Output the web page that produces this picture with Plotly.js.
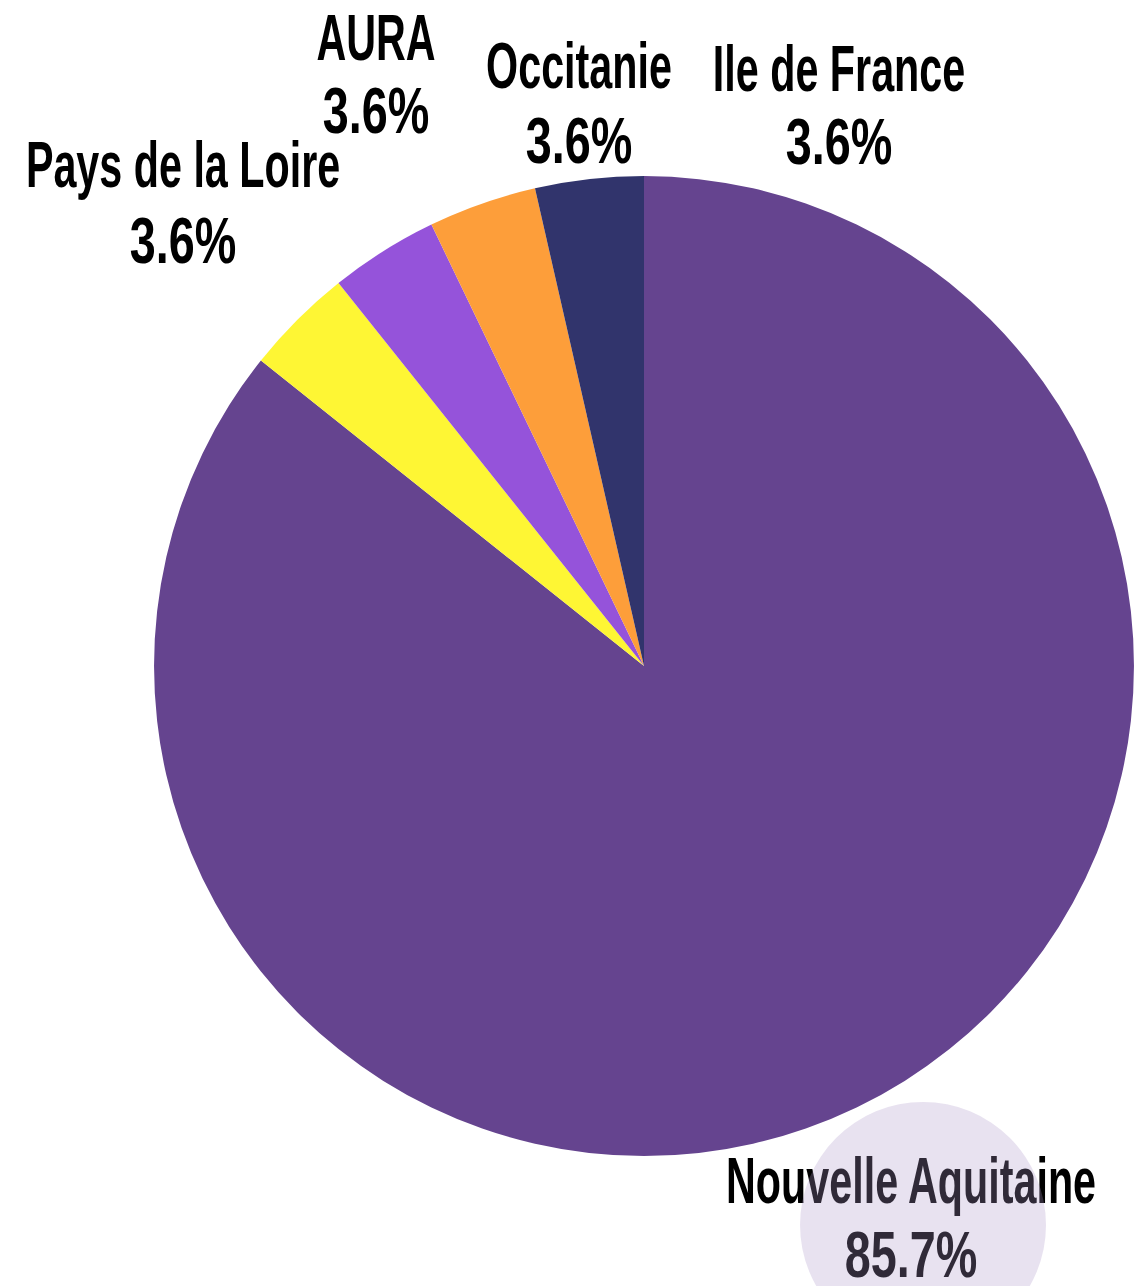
<!DOCTYPE html>
<html>
<head>
<meta charset="utf-8">
<script src="https://cdn.plot.ly/plotly-3.0.1.min.js"></script>
<style>
html,body{margin:0;padding:0;background:#fff;}
#chart{width:1134px;height:1286px;}
#chart .scatterlayer > g.trace .textpoint text{transform-box:fill-box;transform-origin:center;transform:scaleX(0.645);}
#chart .scatterlayer > g.trace:nth-child(2) .textpoint text{transform:scaleX(0.73);}
</style>
</head>
<body>
<div id="chart"></div>
<script>
// Data (clockwise from 12 o'clock)
const regions = ["Nouvelle Aquitaine", "Pays de la Loire", "AURA", "Occitanie", "Ile de France"];
const counts = [24, 1, 1, 1, 1];

// Styling / label placement (fractions of the whole figure)
const sliceColors = ["#65448f", "#fef634", "#9553da", "#fd9e3a", "#31346c"];
const labelX = [0.8034, 0.1614, 0.3316, 0.5106, 0.7399];
const nameY = [0.0771, 0.8667, 0.9659, 0.9437, 0.9418];
const pctY = [0.0191, 0.8076, 0.9091, 0.8854, 0.8846];

const total = counts.reduce((a, b) => a + b, 0);
const pctText = counts.map(c => (c / total * 100).toFixed(1) + "%");

const pie = {
  type: "pie",
  labels: regions,
  values: counts,
  sort: false,
  direction: "clockwise",
  rotation: 0,
  domain: {x: [0.1358, 1], y: [0.1011, 0.8631]},
  marker: {colors: sliceColors, line: {width: 0}},
  textinfo: "none",
  hoverinfo: "label+percent",
  showlegend: false
};

const labelFont = {family: "Liberation Sans, Arial, sans-serif", size: 64, weight: "bold", color: "#000"};

const names = {
  type: "scatter", mode: "text",
  x: labelX, y: nameY, text: regions,
  textposition: "middle center", textfont: labelFont,
  cliponaxis: false, hoverinfo: "skip", showlegend: false
};

const percents = {
  type: "scatter", mode: "text",
  x: labelX, y: pctY, text: pctText,
  textposition: "middle center", textfont: labelFont,
  cliponaxis: false, hoverinfo: "skip", showlegend: false
};

const hiddenAxis = {range: [0, 1], visible: false, showgrid: false, zeroline: false, fixedrange: true};

const layout = {
  width: 1134,
  height: 1286,
  margin: {l: 0, r: 0, t: 0, b: 0},
  paper_bgcolor: "#fff",
  plot_bgcolor: "rgba(0,0,0,0)",
  showlegend: false,
  xaxis: hiddenAxis,
  yaxis: hiddenAxis,
  shapes: [{
    type: "circle",
    xref: "paper", yref: "paper",
    x0: 0.7055, x1: 0.9224, y0: -0.0482, y1: 0.1431,
    fillcolor: "rgba(171,150,200,0.28)",
    line: {width: 0},
    layer: "above"
  }]
};

Plotly.newPlot("chart", [pie, names, percents], layout, {displayModeBar: false, staticPlot: true});
</script>
</body>
</html>
